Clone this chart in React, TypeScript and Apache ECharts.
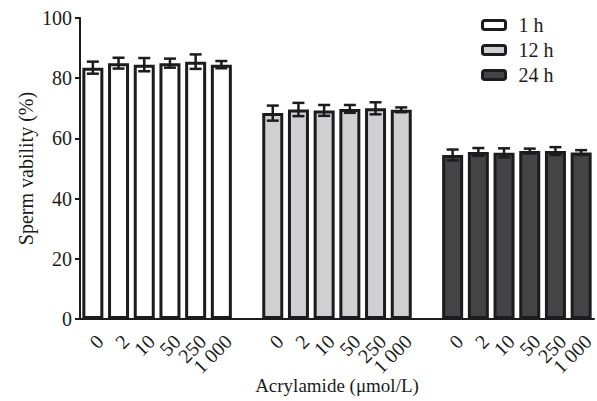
import React, { useEffect, useRef } from "react";
import * as echarts from "echarts";

const doses = ["0", "2", "10", "50", "250", "1 000"];
const categories = [...doses, "", ...doses, "", ...doses];
const seriesNames = ["1 h", "12 h", "24 h"];
const mean1h = [83.5, 85.0, 84.5, 85.0, 85.5, 84.5];
const err1h = [2.0, 1.8, 2.2, 1.5, 2.4, 1.2];
const mean12h = [68.4, 69.6, 69.3, 69.8, 70.0, 69.5];
const err12h = [2.5, 2.2, 1.8, 1.3, 2.0, 0.8];
const mean24h = [54.5, 55.5, 55.2, 55.8, 55.8, 55.3];
const err24h = [1.8, 1.3, 1.5, 0.8, 1.3, 0.8];
const fills = ["#ffffff", "#d0d0d2", "#444446"];

const FONT = "'Liberation Serif', 'Times New Roman', serif";
const INK = "#1c1c1c";

export default function App() {
  const ref = useRef<HTMLDivElement>(null);
  useEffect(() => {
    if (!ref.current) return;
    const chart = echarts.init(ref.current, undefined, { renderer: "svg" });
    const groups = [mean1h, mean12h, mean24h];
    const errs = [err1h, err12h, err24h];
    const barSeries = groups.map((means, g) => {
      const data: any[] = categories.map(() => "-");
      means.forEach((v, i) => {
        data[g * 7 + i] = v;
      });
      return {
        name: seriesNames[g],
        type: "bar",
        data,
        barWidth: 21,
        barGap: "-100%",
        itemStyle: { color: fills[g], borderColor: INK, borderWidth: 3 },
        z: 2,
      };
    });
    const errData: number[][] = [];
    groups.forEach((means, g) => {
      means.forEach((v, i) => {
        errData.push([g * 7 + i, v - errs[g][i], v + errs[g][i]]);
      });
    });
    const errSeries = {
      type: "custom",
      data: errData,
      z: 5,
      renderItem: (params: any, api: any) => {
        const x = api.value(0);
        const lo = api.coord([x, api.value(1)]);
        const hi = api.coord([x, api.value(2)]);
        const hw = 6;
        const style = { stroke: INK, lineWidth: 2.5 };
        return {
          type: "group",
          children: [
            { type: "line", shape: { x1: lo[0], y1: lo[1], x2: hi[0], y2: hi[1] }, style },
            { type: "line", shape: { x1: lo[0] - hw, y1: lo[1], x2: lo[0] + hw, y2: lo[1] }, style },
            { type: "line", shape: { x1: hi[0] - hw, y1: hi[1], x2: hi[0] + hw, y2: hi[1] }, style },
          ],
        };
      },
    };
    chart.setOption({
      animation: false,
      textStyle: { fontFamily: FONT },
      grid: { left: 80, right: 3, top: 18, bottom: 82, containLabel: false, outerBoundsMode: "none" },
      legend: {
        data: seriesNames,
        orient: "vertical",
        left: 481,
        top: 15,
        padding: 0,
        itemWidth: 23,
        itemHeight: 9,
        itemGap: 5,
        textStyle: { fontFamily: FONT, fontSize: 20, color: INK, padding: [0, 0, 0, 8] },
        itemStyle: { borderColor: INK, borderWidth: 3 },
      },
      xAxis: {
        type: "category",
        data: categories,
        name: "Acrylamide (μmol/L)",
        nameLocation: "middle",
        nameGap: 57,
        nameMoveOverlap: false,
        nameTextStyle: { fontFamily: FONT, fontSize: 19, color: INK },
        axisLine: { lineStyle: { color: INK, width: 2 } },
        axisTick: { alignWithLabel: true, length: 5, lineStyle: { color: INK, width: 2 } },
        axisLabel: {
          interval: 0,
          rotate: 45,
          margin: 12,
          verticalAlign: "top",
          fontFamily: FONT,
          fontSize: 20,
          color: INK,
        },
      },
      yAxis: {
        type: "value",
        min: 0,
        max: 100,
        interval: 20,
        name: "Sperm vability (%)",
        nameLocation: "middle",
        nameGap: 44,
        nameMoveOverlap: false,
        nameTextStyle: { fontFamily: FONT, fontSize: 20, color: INK },
        axisLine: { show: true, lineStyle: { color: INK, width: 2 } },
        axisTick: { show: true, length: 5, lineStyle: { color: INK, width: 2 } },
        axisLabel: { margin: 8, fontFamily: FONT, fontSize: 20, color: INK },
        splitLine: { show: false },
      },
      series: [...barSeries, errSeries],
    });
    return () => chart.dispose();
  }, []);
  return <div ref={ref} style={{ width: 597, height: 401, position: "absolute", left: 0, top: 0 }} />;
}
